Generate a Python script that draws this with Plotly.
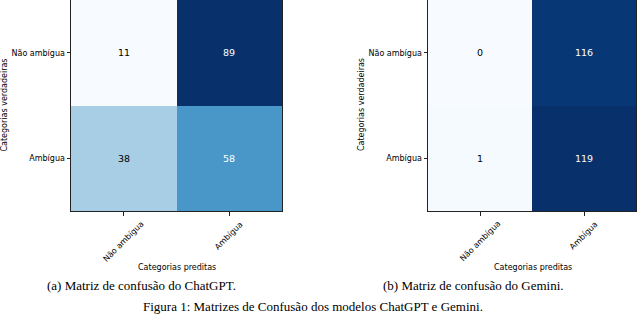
import plotly.graph_objects as go

labels = ["Não ambígua", "Ambígua"]
chatgpt_cm = [[11, 89], [38, 58]]
gemini_cm = [[0, 116], [1, 119]]
captions = ["(a) Matriz de confusão do ChatGPT.", "(b) Matriz de confusão do Gemini."]
fig_caption = "Figura 1: Matrizes de Confusão dos modelos ChatGPT e Gemini."
x_title = "Categorias preditas"
y_title = "Categorias verdadeiras"

W, H = 640, 315
blues = ["#f7fbff", "#deebf7", "#c6dbef", "#9ecae1", "#6baed6",
         "#4292c6", "#2171b5", "#08519c", "#08306b"]
colorscale = [[i / 8, c] for i, c in enumerate(blues)]

def py(y):
    return 1 - y / H

def px(x):
    return x / W

fig = go.Figure()
panels = [
    (chatgpt_cm, (71, 282), "x", "y", 4.5, 177, 141),
    (gemini_cm, (428, 636), "x2", "y2", 362, 533, 473.5),
]
ydom = [py(211), 1.0]
sans = "DejaVu Sans"
tickfont = dict(family=sans, size=8, color="black")
annotations = []
for k, (cm, (x0, x1), xa, ya, ytx, xtx, capx) in enumerate(panels):
    flat = [v for row in cm for v in row]
    vmin, vmax = min(flat), max(flat)
    fig.add_trace(go.Heatmap(
        z=cm, x=labels, y=labels, colorscale=colorscale,
        zmin=vmin, zmax=vmax, showscale=False, xaxis=xa, yaxis=ya,
        hoverinfo="skip"))
    thresh = vmax / 2
    for i, row in enumerate(cm):
        for j, v in enumerate(row):
            annotations.append(dict(
                x=labels[j], y=labels[i], xref=xa, yref=ya, text=str(v),
                showarrow=False, xanchor="center", yanchor="middle",
                font=dict(family=sans, size=9.5,
                          color="white" if v > thresh else "black")))
    # rotated x tick labels, centred on their ticks (matplotlib style)
    for lab in labels:
        annotations.append(dict(
            x=lab, y=py(217), xref=xa, yref="paper", text=lab, textangle=-45,
            showarrow=False, xanchor="center", yanchor="top",
            font=tickfont))
    suffix = "" if k == 0 else "2"
    axis_common = dict(showline=True, mirror=True, linecolor="#222", linewidth=1,
                       ticks="outside", ticklen=3.5, tickwidth=1, tickcolor="#222",
                       tickfont=tickfont, showgrid=False, zeroline=False,
                       fixedrange=True)
    fig.update_layout(**{
        "xaxis" + suffix: dict(domain=[px(x0), px(x1)], anchor=ya,
                               showticklabels=False, **axis_common),
        "yaxis" + suffix: dict(domain=ydom, anchor=xa, autorange="reversed",
                               **axis_common),
    })
    annotations.append(dict(x=px(ytx), y=py(105), xref="paper", yref="paper",
                            text=y_title, textangle=-90, showarrow=False,
                            xanchor="center", yanchor="middle",
                            font=dict(family=sans, size=8, color="black")))
    annotations.append(dict(x=px(xtx), y=py(267.5), xref="paper", yref="paper",
                            text=x_title, showarrow=False,
                            xanchor="center", yanchor="middle",
                            font=dict(family=sans, size=8, color="black")))
    annotations.append(dict(x=px(capx), y=py(285), xref="paper", yref="paper",
                            text=captions[k], showarrow=False,
                            xanchor="center", yanchor="middle",
                            font=dict(family="Liberation Serif", size=13, color="black")))

annotations.append(dict(x=px(313), y=py(306.5), xref="paper", yref="paper",
                        text=fig_caption, showarrow=False,
                        xanchor="center", yanchor="middle",
                        font=dict(family="Liberation Serif", size=13, color="black")))

fig.update_layout(width=W, height=H, margin=dict(l=0, r=0, t=0, b=0),
                  paper_bgcolor="white", plot_bgcolor="white",
                  annotations=annotations, showlegend=False)
fig.write_html("out.html", config={"displayModeBar": False},
               post_script="document.body.style.margin='0';document.body.style.overflow='hidden';")
